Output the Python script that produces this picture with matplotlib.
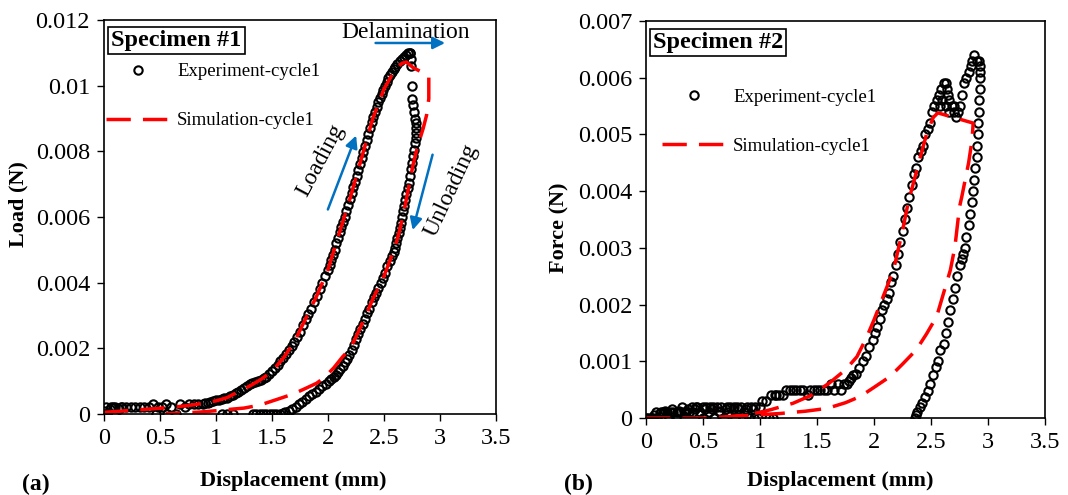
import matplotlib
matplotlib.use('Agg')
import matplotlib.pyplot as plt
from matplotlib.ticker import FuncFormatter

plt.rcParams['font.family'] = ['Liberation Serif', 'DejaVu Serif']

# ---------------- Specimen #1 ----------------
# experiment, loading branch
exp1_load_x = [0.00, 0.00, 0.02, 0.03, 0.05, 0.06, 0.08, 0.10, 0.10, 0.13, 0.15, 0.16, 0.20, 0.24, 0.28,
               0.32, 0.36, 0.40, 0.44, 0.46, 0.48, 0.52, 0.55, 0.56, 0.60, 0.64, 0.68, 0.72, 0.76, 0.80,
               0.84, 0.88,
               0.900, 0.925, 0.950, 0.975, 1.000, 1.025, 1.050, 1.075, 1.100, 1.125, 1.150, 1.175, 1.200,
               1.225, 1.250, 1.275, 1.300, 1.325, 1.350, 1.375, 1.400, 1.425, 1.450, 1.475, 1.500, 1.525,
               1.550, 1.575, 1.600, 1.625, 1.650, 1.675, 1.700, 1.725, 1.750, 1.775, 1.800, 1.825, 1.850,
               1.875, 1.900, 1.925, 1.950, 1.975, 2.000, 2.015, 2.030, 2.045, 2.060, 2.075, 2.090, 2.105,
               2.120, 2.135, 2.150, 2.165, 2.180, 2.195, 2.210, 2.225, 2.240, 2.255, 2.270, 2.285, 2.300,
               2.315, 2.330, 2.345, 2.360, 2.375, 2.390, 2.405, 2.420, 2.435, 2.450, 2.465, 2.480, 2.495,
               2.510, 2.525, 2.540, 2.555, 2.570, 2.585, 2.600, 2.620, 2.640, 2.660, 2.680, 2.700, 2.715,
               2.730]
exp1_load_y = [0.00000, 0.00010, 0.00020, 0.00000, 0.00015, 0.00020, 0.00020, 0.00000, 0.00020, 0.00015,
               0.00020, 0.00020, 0.00020, 0.00020, 0.00020, 0.00020, 0.00020, 0.00020, 0.00030, 0.00000,
               0.00020, 0.00020, 0.00030, 0.00000, 0.00020, 0.00000, 0.00030, 0.00020, 0.00030, 0.00030,
               0.00030, 0.00030,
               0.00033, 0.00035, 0.00038, 0.00040, 0.00042, 0.00044, 0.00046, 0.00048, 0.00050, 0.00054,
               0.00059, 0.00063, 0.00068, 0.00073, 0.00079, 0.00084, 0.00090, 0.00094, 0.00098, 0.00101,
               0.00105, 0.00109, 0.00113, 0.00121, 0.00130, 0.00140, 0.00150, 0.00160, 0.00170, 0.00182,
               0.00195, 0.00207, 0.00220, 0.00235, 0.00250, 0.00270, 0.00290, 0.00305, 0.00320, 0.00340,
               0.00360, 0.00380, 0.00400, 0.00420, 0.00440, 0.00455, 0.00470, 0.00485, 0.00500, 0.00520,
               0.00535, 0.00555, 0.00570, 0.00585, 0.00600, 0.00618, 0.00636, 0.00654, 0.00672, 0.00690,
               0.00708, 0.00726, 0.00744, 0.00762, 0.00780, 0.00798, 0.00816, 0.00834, 0.00852, 0.00870,
               0.00888, 0.00905, 0.00920, 0.00935, 0.00950, 0.00962, 0.00974, 0.00986, 0.00998, 0.01010,
               0.01022, 0.01032, 0.01042, 0.01050, 0.01058, 0.01066, 0.01074, 0.01082, 0.01088, 0.01094,
               0.01098, 0.01100]
# experiment, unloading branch
exp1_unload_x = [2.73, 2.74, 2.74, 2.75, 2.75, 2.76, 2.77, 2.78, 2.785, 2.79, 2.79, 2.785, 2.78, 2.77,
                 2.76, 2.75, 2.74, 2.73, 2.72, 2.71, 2.70, 2.69, 2.68, 2.67, 2.66, 2.65, 2.64, 2.63, 2.62,
                 2.61, 2.60, 2.585, 2.57, 2.55, 2.53, 2.51, 2.49, 2.47, 2.45, 2.43, 2.41, 2.39, 2.37, 2.35,
                 2.33, 2.31, 2.29, 2.27, 2.25, 2.23, 2.21, 2.19, 2.17, 2.15, 2.13, 2.11, 2.09, 2.07, 2.05,
                 2.03, 2.01, 1.98, 1.95, 1.92, 1.89, 1.86, 1.83, 1.80, 1.77, 1.74, 1.71, 1.68, 1.65, 1.62,
                 1.60, 1.57, 1.54, 1.51, 1.48, 1.45, 1.42, 1.39, 1.36, 1.33, 1.15, 1.10, 1.05]
exp1_unload_y = [0.01100, 0.01080, 0.01060, 0.01000, 0.00960, 0.00940, 0.00920, 0.00900, 0.00885,
                 0.00870, 0.00855, 0.00840, 0.00825, 0.00805, 0.00785, 0.00765, 0.00745, 0.00725, 0.00705,
                 0.00688, 0.00670, 0.00652, 0.00635, 0.00618, 0.00600, 0.00582, 0.00565, 0.00550, 0.00535,
                 0.00520, 0.00505, 0.00492, 0.00480, 0.00465, 0.00450, 0.00430, 0.00415, 0.00400, 0.00385,
                 0.00370, 0.00355, 0.00340, 0.00320, 0.00307, 0.00290, 0.00275, 0.00260, 0.00243, 0.00228,
                 0.00210, 0.00195, 0.00180, 0.00168, 0.00157, 0.00147, 0.00137, 0.00127, 0.00120, 0.00112,
                 0.00106, 0.00100, 0.00092, 0.00085, 0.00076, 0.00068, 0.00062, 0.00055, 0.00046, 0.00038,
                 0.00030, 0.00022, 0.00015, 0.00010, 0.00005, 0.00003, 0.00000, 0.00000, 0.00000, 0.00000,
                 0.00000, 0.00000, 0.00000, 0.00000, 0.00000, 0.00000, 0.00000, 0.00000]
# simulation (loading then unloading)
sim1_x = [0.00, 0.20, 0.40, 0.60, 0.80, 1.00, 1.10, 1.20, 1.30, 1.40, 1.50, 1.60, 1.70, 1.80, 1.90,
          2.00, 2.10, 2.20, 2.30, 2.40, 2.50, 2.60, 2.66, 2.70, 2.76, 2.90, 2.90, 2.88, 2.85, 2.80,
          2.76, 2.72, 2.68, 2.64, 2.60, 2.55, 2.50, 2.45, 2.40, 2.35, 2.30, 2.25, 2.20, 2.13, 2.05,
          1.97, 1.90, 1.80, 1.69, 1.55, 1.39, 1.25, 1.15, 1.00, 0.86, 0.70, 0.55]
sim1_y = [0.00005, 0.00010, 0.00015, 0.00020, 0.00028, 0.00040, 0.00050, 0.00068, 0.00085, 0.00105,
          0.00130, 0.00170, 0.00220, 0.00290, 0.00360, 0.00440, 0.00550, 0.00660, 0.00780, 0.00900,
          0.00990, 0.01050, 0.01068, 0.01072, 0.01055, 0.01030, 0.00960, 0.00910, 0.00870, 0.00815,
          0.00760, 0.00690, 0.00620, 0.00560, 0.00510, 0.00465, 0.00420, 0.00385, 0.00350, 0.00310,
          0.00272, 0.00235, 0.00200, 0.00174, 0.00140, 0.00112, 0.00094, 0.00078, 0.00061, 0.00045,
          0.00027, 0.00018, 0.00015, 0.00010, 0.00006, 0.00003, 0.00001]

# ---------------- Specimen #2 ----------------
exp2_load_x = [0.00, 0.02, 0.04, 0.06, 0.09, 0.10, 0.13, 0.15, 0.18, 0.20, 0.21, 0.24, 0.26, 0.27, 0.30,
               0.32, 0.33, 0.35, 0.38, 0.40, 0.41, 0.44, 0.45, 0.47, 0.50, 0.50, 0.53, 0.55, 0.56, 0.59,
               0.60, 0.62, 0.65, 0.66, 0.68, 0.71, 0.72, 0.74, 0.77, 0.78, 0.80, 0.83, 0.85, 0.86, 0.89,
               0.90, 0.92, 0.95, 0.96, 0.98, 1.00, 1.02, 1.05, 1.08, 1.10, 1.11, 1.13, 1.14, 1.17, 1.20,
               1.23, 1.26, 1.29, 1.32, 1.35, 1.38, 1.42, 1.44, 1.47, 1.50, 1.53, 1.56, 1.59, 1.62, 1.65,
               1.68, 1.71, 1.74, 1.76, 1.78, 1.80, 1.82, 1.84, 1.87, 1.90, 1.93, 1.96, 1.99, 2.01, 2.03,
               2.05, 2.07, 2.09, 2.11, 2.13, 2.15, 2.17, 2.19, 2.21, 2.23, 2.25, 2.27, 2.29, 2.31, 2.33,
               2.35, 2.37, 2.39, 2.41, 2.43, 2.45, 2.47, 2.49, 2.51, 2.53, 2.55, 2.57, 2.58, 2.59, 2.60,
               2.61, 2.63, 2.63, 2.64, 2.65, 2.66, 2.66, 2.68, 2.70, 2.70, 2.72, 2.74, 2.75, 2.77, 2.79,
               2.81, 2.83, 2.85, 2.86, 2.88, 2.90, 2.92, 2.93,
               0.07, 0.12, 0.17, 0.23, 0.29, 0.37, 0.43, 0.52, 0.58, 0.64, 0.70, 0.76, 0.82, 0.88, 0.94]
exp2_load_y = [0.00000, 0.00000, 0.00000, 0.00000, 0.00010, 0.00000, 0.00010, 0.00010, 0.00010, 0.00000,
               0.00010, 0.00010, 0.00000, 0.00010, 0.00010, 0.00020, 0.00010, 0.00010, 0.00010, 0.00020,
               0.00010, 0.00020, 0.00020, 0.00010, 0.00020, 0.00000, 0.00020, 0.00010, 0.00020, 0.00020,
               0.00000, 0.00020, 0.00010, 0.00020, 0.00000, 0.00020, 0.00010, 0.00020, 0.00020, 0.00000,
               0.00020, 0.00020, 0.00000, 0.00010, 0.00020, 0.00000, 0.00020, 0.00000, 0.00020, 0.00000,
               0.00020, 0.00030, 0.00030, 0.00000, 0.00040, 0.00000, 0.00040, 0.00040, 0.00040, 0.00040,
               0.00050, 0.00050, 0.00050, 0.00050, 0.00050, 0.00050, 0.00040, 0.00050, 0.00050, 0.00050,
               0.00050, 0.00050, 0.00050, 0.00060, 0.00050, 0.00060, 0.00050, 0.00060, 0.00060, 0.00065,
               0.00070, 0.00075, 0.00078, 0.00088, 0.00100, 0.00110, 0.00125, 0.00137, 0.00150, 0.00160,
               0.00175, 0.00190, 0.00200, 0.00210, 0.00220, 0.00240, 0.00250, 0.00270, 0.00290, 0.00310,
               0.00330, 0.00350, 0.00370, 0.00390, 0.00410, 0.00430, 0.00440, 0.00460, 0.00470, 0.00480,
               0.00500, 0.00510, 0.00520, 0.00540, 0.00550, 0.00560, 0.00570, 0.00550, 0.00580, 0.00560,
               0.00590, 0.00590, 0.00550, 0.00580, 0.00570, 0.00540, 0.00560, 0.00550, 0.00540, 0.00550,
               0.00530, 0.00540, 0.00550, 0.00570, 0.00590, 0.00600, 0.00610, 0.00620, 0.00630, 0.00640,
               0.00630, 0.00630, 0.00620,
               0.00005, 0.00008, 0.00012, 0.00015, 0.00012, 0.00015, 0.00015, 0.00015, 0.00015, 0.00012,
               0.00015, 0.00015, 0.00015, 0.00015, 0.00015]
exp2_unload_x = [2.93, 2.93, 2.93, 2.92, 2.92, 2.91, 2.91, 2.90, 2.90, 2.89, 2.88, 2.87, 2.86, 2.84, 2.83,
                 2.81, 2.80, 2.78, 2.77, 2.75, 2.73, 2.71, 2.69, 2.67, 2.65, 2.63, 2.61, 2.58, 2.56, 2.54,
                 2.52, 2.49, 2.47, 2.45, 2.42, 2.40, 2.38, 2.37, 2.36]
exp2_unload_y = [0.00610, 0.00600, 0.00580, 0.00560, 0.00540, 0.00520, 0.00500, 0.00480, 0.00460, 0.00440,
                 0.00420, 0.00400, 0.00380, 0.00360, 0.00340, 0.00320, 0.00300, 0.00290, 0.00280, 0.00270,
                 0.00250, 0.00230, 0.00210, 0.00190, 0.00170, 0.00150, 0.00130, 0.00120, 0.00100, 0.00090,
                 0.00075, 0.00060, 0.00047, 0.00037, 0.00027, 0.00020, 0.00010, 0.00005, 0.00000]
sim2_x = [0.00, 0.50, 0.80, 1.00, 1.10, 1.29, 1.45, 1.61, 1.75, 1.85, 1.93, 2.00, 2.08, 2.17, 2.25,
          2.30, 2.38, 2.46, 2.52, 2.56, 2.87, 2.86, 2.83, 2.80, 2.77, 2.75, 2.71, 2.67, 2.61, 2.55,
          2.46, 2.37, 2.25, 2.14, 2.00, 1.88, 1.75, 1.59, 1.40, 1.18, 0.94, 0.70]
sim2_y = [0.00000, 0.00000, 0.00003, 0.00010, 0.00015, 0.00026, 0.00040, 0.00062, 0.00085, 0.00108,
          0.00140, 0.00173, 0.00214, 0.00260, 0.00330, 0.00380, 0.00440, 0.00500, 0.00530, 0.00538,
          0.00520, 0.00490, 0.00450, 0.00420, 0.00390, 0.00372, 0.00302, 0.00261, 0.00220, 0.00179,
          0.00148, 0.00120, 0.00095, 0.00073, 0.00054, 0.00038, 0.00027, 0.00017, 0.00012, 0.00008,
          0.00005, 0.00002]

x_ticks = [0, 0.5, 1, 1.5, 2, 2.5, 3, 3.5]
y1_ticks = [0, 0.002, 0.004, 0.006, 0.008, 0.01, 0.012]
y2_ticks = [0, 0.001, 0.002, 0.003, 0.004, 0.005, 0.006, 0.007]

BLUE = '#0070C0'
RED = '#FF0000'

fig = plt.figure(figsize=(10.68, 4.95), dpi=100)
ax1 = fig.add_axes([104 / 1068, 1 - 414 / 495, 392 / 1068, 394 / 495])
ax2 = fig.add_axes([646 / 1068, 1 - 418 / 495, 399 / 1068, 397 / 495])

fmt = FuncFormatter(lambda v, p: '%g' % v)


def style(ax, yticks, ymax):
    ax.set_xlim(0, 3.5)
    ax.set_ylim(0, ymax)
    ax.set_xticks(x_ticks)
    ax.set_yticks(yticks)
    ax.xaxis.set_major_formatter(fmt)
    ax.yaxis.set_major_formatter(fmt)
    ax.tick_params(direction='out', length=5, width=1, labelsize=17.5, pad=5)
    for s in ax.spines.values():
        s.set_linewidth(1.2)


def draw(ax, lx, ly, ux, uy, sx, sy):
    exp_kw = dict(ls='none', marker='o', ms=6, mfc='none', mec='black', mew=1.5)
    h1, = ax.plot(lx, ly, **exp_kw)
    ax.plot(ux, uy, **exp_kw)
    h2, = ax.plot(sx, sy, color=RED, lw=2.5, dashes=(7, 3.5))
    return h1, h2


# ---- panel (a)
h1, h2 = draw(ax1, exp1_load_x, exp1_load_y, exp1_unload_x, exp1_unload_y, sim1_x, sim1_y)
style(ax1, y1_ticks, 0.012)
ax1.legend([h1, h2], ['Experiment-cycle1', 'Simulation-cycle1'], loc='upper left',
           bbox_to_anchor=(0.005, 0.89), frameon=False, fontsize=13.5, handlelength=3.4,
           handletextpad=0.4, labelspacing=1.7, borderpad=0, borderaxespad=0)
ax1.text(0.185, 0.948, 'Specimen #1', transform=ax1.transAxes, ha='center', va='center',
         fontsize=17.5, fontweight='bold',
         bbox=dict(boxstyle='square,pad=0.12', fc='white', ec='black', lw=1.2))
ax1.text(2.69, 0.01163, 'Delamination', fontsize=17, ha='center', va='center')
ax1.annotate('', xy=(3.07, 0.0113), xytext=(2.4, 0.0113),
             arrowprops=dict(arrowstyle='-|>', color=BLUE, lw=1.8, mutation_scale=18))
ax1.text(1.93, 0.00774, 'Loading', fontsize=17, rotation=62, ha='center', va='center')
ax1.annotate('', xy=(2.26, 0.00856), xytext=(1.99, 0.00615),
             arrowprops=dict(arrowstyle='-|>', color=BLUE, lw=1.8, mutation_scale=18))
ax1.text(3.10, 0.00682, 'Unloading', fontsize=17, rotation=65, ha='center', va='center')
ax1.annotate('', xy=(2.75, 0.00552), xytext=(2.94, 0.00798),
             arrowprops=dict(arrowstyle='-|>', color=BLUE, lw=1.8, mutation_scale=18))

# ---- panel (b)
h1, h2 = draw(ax2, exp2_load_x, exp2_load_y, exp2_unload_x, exp2_unload_y, sim2_x, sim2_y)
style(ax2, y2_ticks, 0.007)
ax2.legend([h1, h2], ['Experiment-cycle1', 'Simulation-cycle1'], loc='upper left',
           bbox_to_anchor=(0.04, 0.83), frameon=False, fontsize=13.5, handlelength=3.4,
           handletextpad=0.4, labelspacing=1.7, borderpad=0, borderaxespad=0)
ax2.text(0.18, 0.946, 'Specimen #2', transform=ax2.transAxes, ha='center', va='center',
         fontsize=17.5, fontweight='bold',
         bbox=dict(boxstyle='square,pad=0.12', fc='white', ec='black', lw=1.2))

# axis titles and panel tags
fig.text(293 / 1068, 1 - 481 / 495, 'Displacement (mm)', ha='center', va='center',
         fontsize=16, fontweight='bold')
fig.text(840 / 1068, 1 - 481 / 495, 'Displacement (mm)', ha='center', va='center',
         fontsize=16, fontweight='bold')
fig.text(18 / 1068, 1 - 204 / 495, 'Load (N)', rotation=90, ha='center', va='center',
         fontsize=16, fontweight='bold')
fig.text(559 / 1068, 1 - 228 / 495, 'Force (N)', rotation=90, ha='center', va='center',
         fontsize=16, fontweight='bold')
fig.text(36 / 1068, 1 - 484 / 495, '(a)', ha='center', va='center', fontsize=17, fontweight='bold')
fig.text(578 / 1068, 1 - 484 / 495, '(b)', ha='center', va='center', fontsize=17, fontweight='bold')

fig.savefig('out.png', dpi=100, facecolor='white')
